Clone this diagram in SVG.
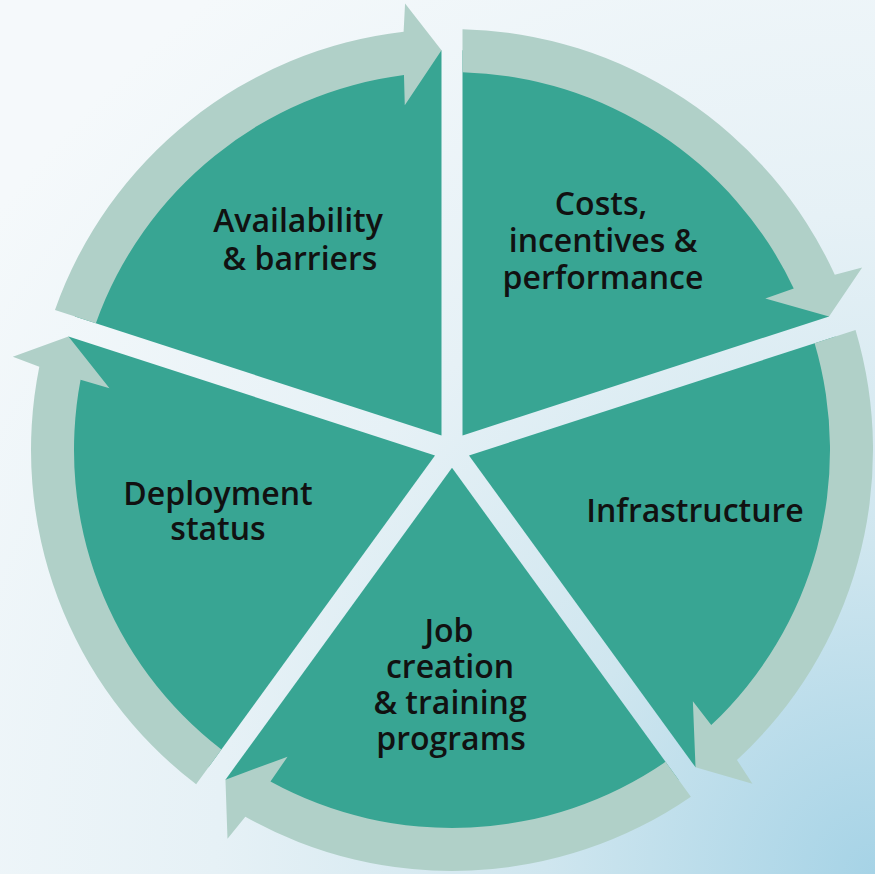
<svg xmlns="http://www.w3.org/2000/svg" width="875" height="874" viewBox="0 0 875 874">
  <defs>
    <radialGradient id="bg" cx="875" cy="874" r="1100" gradientUnits="userSpaceOnUse">
      <stop offset="0" stop-color="#a6d3e6"/>
      <stop offset="0.3" stop-color="#cfe6ef"/>
      <stop offset="0.6" stop-color="#e6f1f6"/>
      <stop offset="1" stop-color="#f5f9fb"/>
    </radialGradient>
    <style>
      .sector { fill: #38a593; }
      .arrow { fill: #b0d0c8; }
      .label { font-family: "Open Sans", "Liberation Sans", sans-serif; font-weight: 600; font-size: 32px; fill: #111111; text-anchor: middle; }
    </style>
  </defs>
  <rect x="0" y="0" width="875" height="874" fill="url(#bg)"/>

  <g id="node-costs">
    <path class="sector" d="M462.5,435.55 L462.5,50.14 A400,400 0 0 1 829.05,316.45 Z"/>
    <text class="label"><tspan x="601" y="215">Costs,</tspan><tspan x="603" y="252">incentives &amp;</tspan><tspan x="603" y="289">performance</tspan></text>
  </g>
  <g id="node-infrastructure">
    <path class="sector" d="M468.99,455.52 L835.54,336.42 A400,400 0 0 1 695.53,767.33 Z"/>
    <text class="label" x="695" y="522">Infrastructure</text>
  </g>
  <g id="node-job">
    <path class="sector" d="M452,467.86 L678.54,779.67 A400,400 0 0 1 225.46,779.67 Z"/>
    <text class="label"><tspan x="449" y="642">Job</tspan><tspan x="450" y="678">creation</tspan><tspan x="450" y="714">&amp; training</tspan><tspan x="451" y="750">programs</tspan></text>
  </g>
  <g id="node-deployment">
    <path class="sector" d="M435.01,455.52 L208.47,767.33 A400,400 0 0 1 68.46,336.42 Z"/>
    <text class="label"><tspan x="218" y="505">Deployment</tspan><tspan x="218" y="540">status</tspan></text>
  </g>
  <g id="node-availability">
    <path class="sector" d="M441.5,435.55 L74.95,316.45 A400,400 0 0 1 441.5,50.14 Z"/>
    <text class="label"><tspan x="298" y="232">Availability</tspan><tspan x="300" y="270">&amp; barriers</tspan></text>
  </g>

  <g id="connectors">
    <path class="arrow" d="M462.5,29.13 A421,421 0 0 1 834.79,274.75 L862.18,267.38 L829.05,316.45 L765.31,298.54 L793.74,288.46 A378,378 0 0 0 462.5,72.15 Z"/>
    <path class="arrow" d="M855.52,329.93 A421,421 0 0 1 736.97,759.90 L752.44,783.67 L695.53,767.33 L692.87,701.17 L711.24,725.10 A378,378 0 0 0 814.61,343.22 Z"/>
    <path class="arrow" d="M690.89,796.66 A421,421 0 0 1 245.33,816.78 L227.5,838.85 L225.46,779.67 L287.55,756.69 L270.48,781.56 A378,378 0 0 0 665.60,761.86 Z"/>
    <path class="arrow" d="M196.12,784.32 A421,421 0 0 1 39.31,366.79 L12.81,356.65 L68.46,336.42 L109.50,388.37 L80.57,379.82 A378,378 0 0 0 221.41,749.52 Z"/>
    <path class="arrow" d="M54.98,309.96 A421,421 0 0 1 403.61,31.79 L405.07,3.46 L441.5,50.14 L404.77,105.22 L403.97,75.06 A378,378 0 0 0 95.88,323.25 Z"/>
  </g>
</svg>
